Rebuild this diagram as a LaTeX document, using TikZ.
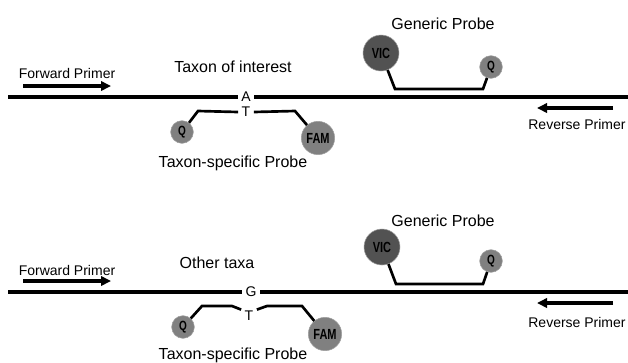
\documentclass[tikz,border=0pt]{standalone}
\usepackage{fontspec}
\setmainfont{Liberation Sans}
\usetikzlibrary{arrows.meta}
\tikzset{
  strand/.style={line width=3pt},
  probe/.style={line width=2pt},
  primer/.style={line width=2.8pt, -{Triangle[length=7.5pt,width=7pt]}},
  dye/.style={circle, inner sep=0pt, draw=black!38, thin,
    font=\fontsize{11}{11}\selectfont\bfseries},
  vic/.style={dye, fill=black!68, minimum size=27pt},
  fam/.style={dye, fill=black!50, minimum size=25pt},
  quench/.style={dye, fill=black!50, minimum size=17pt,
    font=\fontsize{10}{10}\selectfont\bfseries},
  base/.style={inner xsep=2.5pt, inner ysep=1pt, font=\fontsize{10.5}{10.5}\selectfont},
  bigtext/.style={font=\fontsize{12}{12}\selectfont},
  primertext/.style={font=\fontsize{10.5}{10.5}\selectfont}
}
\begin{document}
\begin{tikzpicture}[x=0.75pt,y=-0.75pt]
  \useasboundingbox (0,0) rectangle (628,362);
  % taxon of interest
  \node[primertext] (fwd1) at (67,73) {Forward Primer};
  \coordinate (f1s) at (23,86);
  \coordinate (f1e) at (111,86);
  \draw[primer] (f1s) -- (f1e);
  \node[bigtext] (tax1) at (233,67) {Taxon of interest};
  \coordinate (s1l) at (8,97);
  \coordinate (s1r) at (628,97);
  \node[base] (A1) at (246,97) {A};
  \draw[strand] (s1l) -- (A1) (A1) -- (s1r);
  \node[base] (T1) at (246,112) {T};
  \node[quench] (Q1) at (182,132) {\scalebox{0.75}[1]{Q}};
  \node[fam] (FAM1) at (318,138) {\scalebox{0.75}[1]{FAM}};
  \draw[probe] (Q1) -- (198,111) -- (T1.west);
  \draw[probe] (T1.east) -- (295,111) -- (FAM1);
  \node[bigtext] (tsp1) at (233,163) {Taxon-specific Probe};
  \node[bigtext] (gen1) at (443,24) {Generic Probe};
  \node[vic] (VIC1) at (381,53) {\scalebox{0.75}[1]{VIC}};
  \node[quench] (Q2) at (491,67) {\scalebox{0.75}[1]{Q}};
  \draw[probe] (VIC1) -- (395,89) -- (483,89) -- (Q2);
  \coordinate (r1s) at (613,108);
  \coordinate (r1e) at (537,108);
  \draw[primer] (r1s) -- (r1e);
  \node[primertext] (rev1) at (577,124) {Reverse Primer};
  % other taxa
  \node[primertext] (fwd2) at (67,270) {Forward Primer};
  \coordinate (f2s) at (23,281);
  \coordinate (f2e) at (111,281);
  \draw[primer] (f2s) -- (f2e);
  \node[bigtext] (tax2) at (217,263) {Other taxa};
  \coordinate (s2l) at (8,292);
  \coordinate (s2r) at (628,292);
  \node[base] (G2) at (251,292) {G};
  \draw[strand] (s2l) -- (G2) (G2) -- (s2r);
  \node[base] (T2) at (249,316) {T};
  \node[quench] (Q3) at (183,327) {\scalebox{0.75}[1]{Q}};
  \node[fam] (FAM2) at (325,334) {\scalebox{0.75}[1]{FAM}};
  \draw[probe] (Q3) -- (202,306) -- (232,306) -- (T2.north west);
  \draw[probe] (T2.north east) -- (267,306) -- (302,306) -- (FAM2);
  \node[bigtext] (tsp2) at (233,355) {Taxon-specific Probe};
  \node[bigtext] (gen2) at (443,221) {Generic Probe};
  \node[vic] (VIC2) at (382,247) {\scalebox{0.75}[1]{VIC}};
  \node[quench] (Q4) at (491,261) {\scalebox{0.75}[1]{Q}};
  \draw[probe] (VIC2) -- (396,284) -- (483,284) -- (Q4);
  \coordinate (r2s) at (613,303);
  \coordinate (r2e) at (537,303);
  \draw[primer] (r2s) -- (r2e);
  \node[primertext] (rev2) at (577,322) {Reverse Primer};
\end{tikzpicture}
\end{document}
